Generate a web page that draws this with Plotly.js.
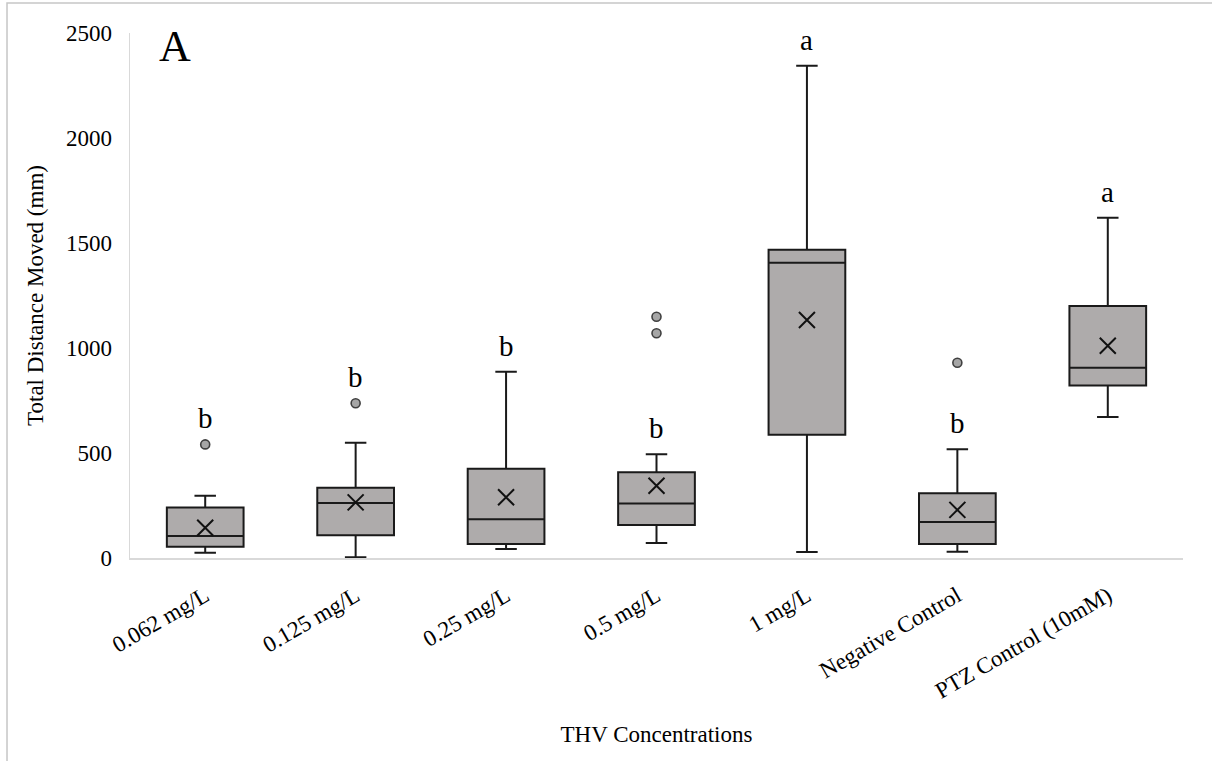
<!DOCTYPE html>
<html>
<head>
<meta charset="utf-8">
<script src="https://cdn.plot.ly/plotly-3.0.1.min.js"></script>
<style>
  html, body { margin: 0; padding: 0; background: #ffffff; }
  #chart { width: 1212px; height: 761px; }
</style>
</head>
<body>
<div id="chart"></div>
<script>
// Groups on the x axis
const categories = ['0.062 mg/L', '0.125 mg/L', '0.25 mg/L', '0.5 mg/L', '1 mg/L', 'Negative Control', 'PTZ Control (10mM)'];

// Five-number summaries (mm)
const minima  = [25, 3, 43, 71, 29, 30, 671];
const q1      = [54, 108, 67, 157, 587, 67, 822];
const medians = [105, 262, 184, 259, 1406, 171, 906];
const q3      = [240, 335, 425, 408, 1468, 308, 1200];
const maxima  = [297, 549, 887, 494, 2344, 518, 1620];

// Means (shown as crosses)
const means = [144, 265, 289, 344, 1133, 229, 1011];

// Outlying observations per group
const outliers = [[541], [737], [], [1070, 1149], [], [930], []];

// Significance letters
const letters = ['b', 'b', 'b', 'b', 'a', 'b', 'a'];

const serif = 'Liberation Serif, Times New Roman, serif';

const boxTrace = {
  type: 'box',
  x: categories,
  q1: q1,
  median: medians,
  q3: q3,
  lowerfence: minima,
  upperfence: maxima,
  boxpoints: false,
  width: 0.51,
  whiskerwidth: 0.28,
  fillcolor: '#aeabab',
  line: { color: '#1a1a1a', width: 2 },
  hoverinfo: 'skip',
  showlegend: false
};

const outX = [], outY = [];
outliers.forEach((vals, i) => vals.forEach(v => { outX.push(categories[i]); outY.push(v); }));

const outlierTrace = {
  type: 'scatter',
  mode: 'markers',
  x: outX,
  y: outY,
  marker: { symbol: 'circle', size: 9, color: '#a6a6a6', line: { color: '#404040', width: 1.6 } },
  hoverinfo: 'skip',
  showlegend: false
};

const meanTrace = {
  type: 'scatter',
  mode: 'markers',
  x: categories,
  y: means,
  marker: { symbol: 'x-thin-open', size: 16, color: '#111111', line: { color: '#111111', width: 2 } },
  hoverinfo: 'skip',
  showlegend: false
};

// Letters sit above the whisker, or above a nearby outlier
const letterAnnotations = categories.map((c, i) => {
  let top = maxima[i];
  outliers[i].forEach(v => { if (v - maxima[i] < 300 && v > top) top = v; });
  return {
    x: c, y: top, xref: 'x', yref: 'y',
    text: letters[i], showarrow: false,
    yanchor: 'bottom', yshift: 8,
    font: { family: serif, size: 29, color: '#000000' }
  };
});

const panelLabel = {
  xref: 'paper', yref: 'paper', x: 0.026, y: 1.025,
  xanchor: 'left', yanchor: 'top',
  text: 'A', showarrow: false,
  font: { family: serif, size: 44, color: '#000000' }
};

// Frame around the figure
const frame = {
  type: 'rect', xref: 'paper', yref: 'paper',
  x0: -0.1168, x1: 1.2, y0: -0.6, y1: 1.0571,
  line: { color: '#c6c6c6', width: 1.5 },
  fillcolor: 'rgba(0,0,0,0)'
};

const layout = {
  width: 1212,
  height: 761,
  margin: { l: 130, r: 29, t: 33, b: 203 },
  paper_bgcolor: '#ffffff',
  plot_bgcolor: '#ffffff',
  font: { family: serif, color: '#000000', size: 23 },
  xaxis: {
    type: 'category',
    range: [-0.5, 6.5],
    showline: true,
    linecolor: '#d9d9d9',
    linewidth: 1.5,
    showgrid: false,
    zeroline: false,
    ticks: '',
    tickangle: -30,
    ticklabelstandoff: 14,
    tickfont: { family: serif, size: 23, color: '#000000' },
    title: { text: 'THV Concentrations', standoff: 23, font: { family: serif, size: 23, color: '#000000' } },
    automargin: false
  },
  yaxis: {
    range: [0, 2500],
    tickvals: [0, 500, 1000, 1500, 2000, 2500],
    showline: true,
    linecolor: '#d9d9d9',
    linewidth: 1.5,
    showgrid: false,
    zeroline: false,
    ticks: '',
    ticklabelstandoff: 12,
    tickfont: { family: serif, size: 23, color: '#000000' },
    title: { text: 'Total Distance Moved (mm)', standoff: 16, font: { family: serif, size: 23, color: '#000000' } },
    automargin: false
  },
  annotations: letterAnnotations.concat([panelLabel]),
  shapes: [frame],
  showlegend: false
};

Plotly.newPlot('chart', [boxTrace, outlierTrace, meanTrace], layout, { displayModeBar: false, staticPlot: true });
</script>
</body>
</html>
